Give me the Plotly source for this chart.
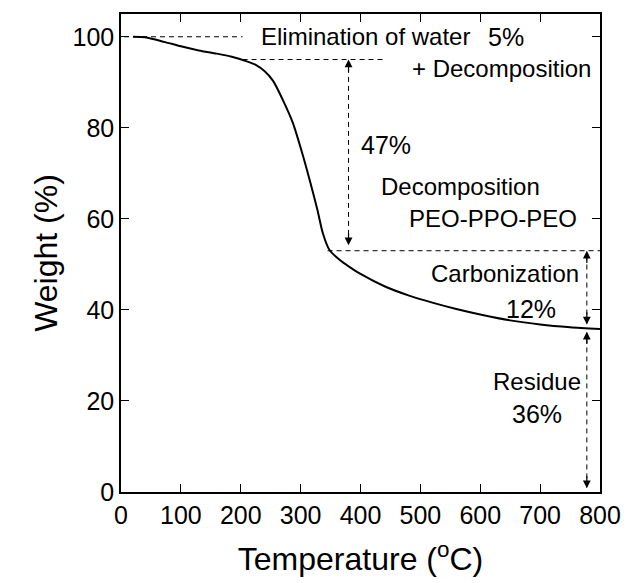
import plotly.graph_objects as go

# TGA curve data
temperature = [20, 40, 60, 80, 100, 130, 160, 185, 210, 225, 240, 254, 270, 287, 301, 315,
               328, 337, 348, 365, 382, 400, 440, 480, 520, 560, 600, 650, 700, 750, 800]
weight = [100.0, 99.9, 99.3, 98.6, 97.9, 97.0, 96.3, 95.6, 94.6, 93.8, 92.4, 90.3, 86.2, 81.1, 75.2, 68.6,
          62.0, 56.9, 53.2, 51.0, 49.4, 47.9, 45.2, 43.2, 41.6, 40.2, 39.0, 37.7, 36.8, 36.2, 35.8]

x_ticks = [0, 100, 200, 300, 400, 500, 600, 700, 800]
y_ticks = [0, 20, 40, 60, 80, 100]

# guide levels
level_start = 100
level_water = 95
level_decomp = 53
level_residue = 36
arrow_x1 = 380
arrow_x2 = 778

FONT = "Liberation Sans, Arial, sans-serif"

fig = go.Figure()
fig.add_trace(go.Scatter(x=temperature, y=weight, mode="lines",
                         line=dict(color="black", width=2, shape="spline", smoothing=0.7),
                         showlegend=False, hoverinfo="skip"))

dash = "5px,4px"
def hline(x0, x1, y):
    fig.add_shape(type="line", x0=x0, x1=x1, y0=y, y1=y, xref="x", yref="y",
                  line=dict(color="black", width=1, dash=dash))
def vline(x, y0, y1):
    fig.add_shape(type="line", x0=x, x1=x, y0=y0, y1=y1, xref="x", yref="y",
                  line=dict(color="black", width=1, dash=dash))
def head(x, y, up):
    d = -3 if up else 3
    fig.add_annotation(x=x, y=y, ax=x, ay=y + d, xref="x", yref="y", axref="x", ayref="y",
                       showarrow=True, arrowhead=2, arrowsize=1.3, arrowwidth=1.2,
                       arrowcolor="black", text="")

hline(5, 203, level_start)
hline(203, 443, level_water)
hline(345, 800, level_decomp)

vline(arrow_x1, level_decomp + 1.5, level_water - 1)
head(arrow_x1, level_water, True)
head(arrow_x1, level_decomp + 1.2, False)

vline(arrow_x2, level_residue + 1, level_decomp - 1)
head(arrow_x2, level_decomp, True)
head(arrow_x2, level_residue + 0.8, False)

vline(arrow_x2, 1, level_residue - 1)
head(arrow_x2, level_residue - 0.8, True)
head(arrow_x2, 0.8, False)

def txt(x, y, s, size=24, anchor="left"):
    fig.add_annotation(x=x, y=y, xref="x", yref="y", text=s, showarrow=False,
                       xanchor=anchor, yanchor="middle",
                       font=dict(family=FONT, size=size, color="black"))

txt(230, 100, "Elimination of water")
txt(643, 100, "5%", size=25, anchor="center")
txt(482, 93.0, "+ Decomposition")
txt(443, 76.3, "47%", size=25, anchor="center")
txt(567, 67.0, "Decomposition", anchor="center")
txt(622, 60.0, "PEO-PPO-PEO", anchor="center")
txt(642, 48.1, "Carbonization", anchor="center")
txt(685, 40.3, "12%", size=25, anchor="center")
txt(694, 24.2, "Residue", anchor="center")
txt(694, 17.2, "36%", size=25, anchor="center")

axis_common = dict(showline=True, linecolor="black", linewidth=1.5, mirror="ticks",
                   ticks="inside", ticklen=8, tickwidth=1.2, tickcolor="black",
                   showgrid=False, zeroline=False,
                   tickfont=dict(family=FONT, size=25, color="black"))

fig.update_xaxes(range=[0, 800], tickvals=x_ticks, ticktext=[str(v) for v in x_ticks],
                 title=dict(text="Temperature (<sup>o</sup>C)", standoff=20,
                            font=dict(family=FONT, size=32, color="black")),
                 **axis_common)
fig.update_yaxes(range=[0, 105], tickvals=y_ticks, ticktext=[str(v) for v in y_ticks],
                 title=dict(text="Weight (%)", standoff=5,
                            font=dict(family=FONT, size=32, color="black")),
                 **axis_common)

fig.update_layout(width=633, height=583, margin=dict(l=121, r=31, t=14, b=91),
                  plot_bgcolor="white", paper_bgcolor="white")

fig.write_html("out.html")
